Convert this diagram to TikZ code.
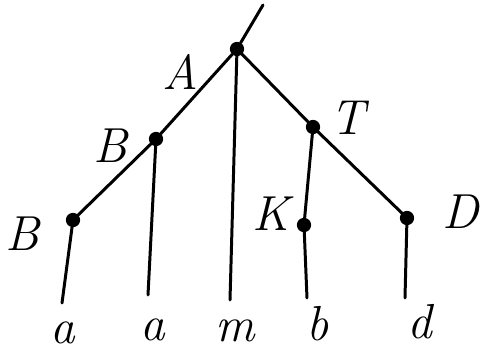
\documentclass[tikz,border=0pt]{standalone}
\usepackage{fontspec}
\usetikzlibrary{positioning}

\tikzset{
    branch/.style={line width=1.7pt,line cap=round},
    knot/.style={circle,fill,draw,line width=1pt,inner sep=0pt,minimum size=0.25cm},
    tag/.style={font=\fontsize{28}{32}\selectfont\itshape,inner sep=1pt},
}

\begin{document}
\begin{tikzpicture}[x=0.02cm,y=-0.02cm]
    \useasboundingbox (0,0) rectangle (485,356);

    % inner nodes
    \node[knot] (A) at (237,49) {};
    \node[knot] (B-up) at (156,139) {};
    \node[knot] (B-low) at (73,220) {};
    \node[knot] (T) at (313,127) {};
    \node[knot] (K) at (304,225) {};
    \node[knot] (D) at (407,218) {};
    \coordinate (root-top) at (263,5);

    \node[tag] (A-label) at (180,72) {A};
    \node[tag] (B-up-label) at (110,146) {B};
    \node[tag] (B-low-label) at (22,234) {B};
    \node[tag] (T-label) at (348,118) {T};
    \node[tag] (K-label) at (271,214) {K};
    \node[tag] (D-label) at (461,212) {D};

    % leaves
    \coordinate (a1-end) at (62,303);
    \coordinate (a2-end) at (148,295);
    \coordinate (m-end) at (230,300);
    \coordinate (b-end) at (307,298);
    \coordinate (d-end) at (405,298);
    \node[tag] (a1) at (63,333) {a};
    \node[tag] (a2) at (153,330) {a};
    \node[tag] (m) at (235,331) {m};
    \node[tag] (b) at (318,324) {b};
    \node[tag] (d) at (420,322) {d};

    \draw[branch] (root-top) -- (A);
    \draw[branch] (A) -- (B-up) -- (B-low) -- (a1-end);
    \draw[branch] (B-up) -- (a2-end);
    \draw[branch] (A) -- (m-end);
    \draw[branch] (A) -- (T) -- (D) -- (d-end);
    \draw[branch] (T) -- (K) -- (b-end);
\end{tikzpicture}
\end{document}
